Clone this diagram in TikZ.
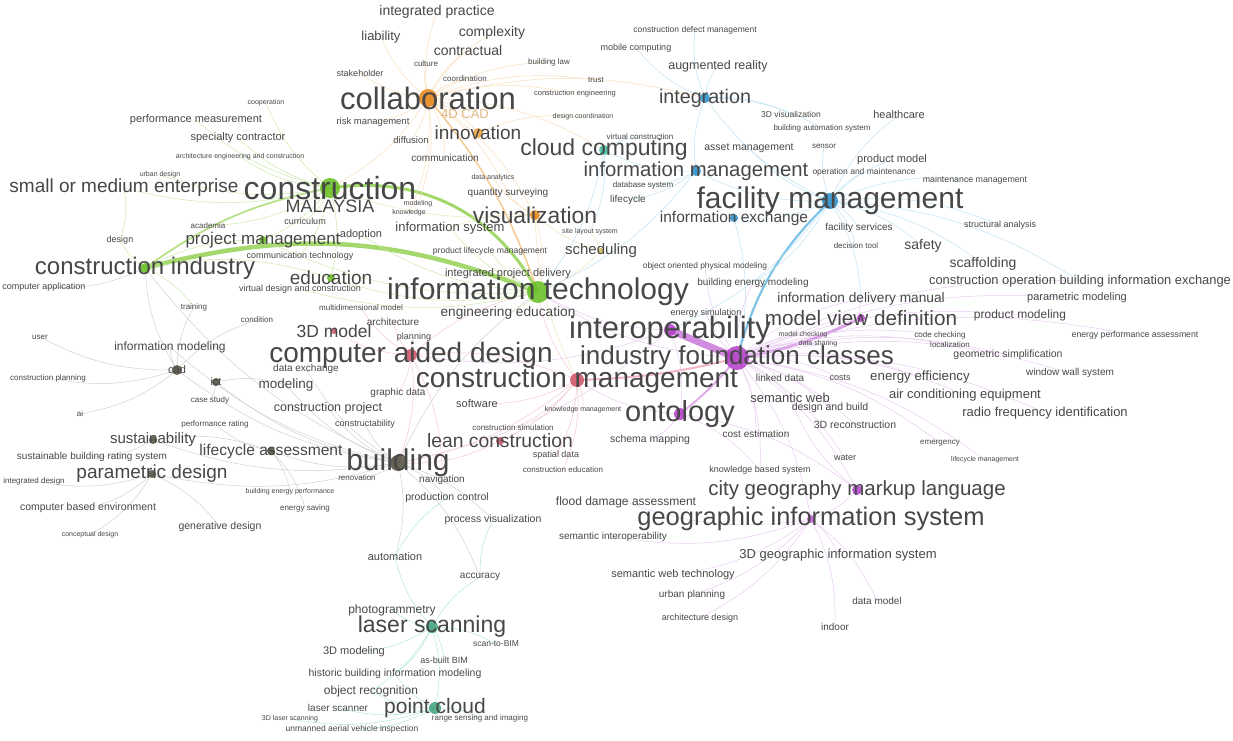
\documentclass[tikz,border=0pt]{standalone}
\usepackage{fontspec}
\setmainfont{Liberation Sans}
\pgfdeclarelayer{background}
\pgfdeclarelayer{dots}
\pgfsetlayers{background,dots,main}
\definecolor{grn}{RGB}{125,200,45}
\definecolor{org}{RGB}{235,160,60}
\definecolor{ylw}{RGB}{205,190,90}
\definecolor{blu}{RGB}{70,170,220}
\definecolor{pur}{RGB}{190,90,210}
\definecolor{rd}{RGB}{225,80,110}
\definecolor{gry}{RGB}{150,150,150}
\definecolor{tea}{RGB}{60,190,160}
\definecolor{dgrn}{RGB}{100,190,30}
\definecolor{dorg}{RGB}{230,130,20}
\definecolor{dblu}{RGB}{40,140,200}
\definecolor{dpur}{RGB}{180,60,200}
\definecolor{drd}{RGB}{205,80,100}
\definecolor{dgry}{RGB}{80,75,60}
\definecolor{dtea}{RGB}{60,160,120}
\tikzstyle{kw}=[inner sep=0pt, text=black!72]
\tikzstyle{edge}=[draw, line width=0.5pt, -]
\tikzstyle{heavy edge}=[draw, -, opacity=0.7]

\begin{document}
\begin{tikzpicture}[x=1pt,y=-1pt]
  \useasboundingbox (0,0) rectangle (1233,740);
  % keywords
  \foreach \pos/\name/\sz/\txt in {
      {(428,98)/collab/31/collaboration}, {(330,188)/constr/32/construction},
      {(538,292)/infotech/30/information technology}, {(830,201)/fm/30/facility management},
      {(670,330)/interop/31/interoperability}, {(737,358)/ifc/26/industry foundation classes},
      {(411,355)/cad/28/computer aided design}, {(577,380)/cm/28/construction management},
      {(680,414)/onto/29/ontology}, {(398,463)/bldg/30/building},
      {(811,519)/gis/25.5/geographic information system}, {(857,490)/citygml/20.5/city geography markup language},
      {(124,188)/sme/19/small or medium enterprise}, {(145,268)/ci/24/construction industry},
      {(432,627)/laser/23/laser scanning}, {(435,708)/pc/21/point cloud},
      {(861,318)/mvd/20.7/model view definition}, {(696,171)/im/20.3/information management},
      {(604,150)/cloud/23/cloud computing}, {(535,215)/vis/22.8/visualization},
      {(478,133)/innov/19/innovation}, {(705,98)/integ/19.7/integration},
      {(153,440)/sust/15/sustainability}, {(152,474)/param/19/parametric design},
      {(500,441)/lean/19.3/lean construction}, {(334,331)/tdm/17.5/3D model},
      {(330,206)/malay/18/MALAYSIA}, {(263,240)/pm/17/project management},
      {(331,278)/edu/19/education}, {(271,451)/lca/15.6/lifecycle assessment},
      {(508,313)/engedu/13.7/engineering education}, {(601,251)/sched/15/scheduling},
      {(734,218)/ie/15.5/information exchange}, {(861,299)/idm/13.7/information delivery manual},
      {(983,264)/scaff/14/scaffolding}, {(1080,281)/cobie/12.9/construction operation building information exchange},
      {(437,12)/intprac/14/integrated practice}, {(381,37)/liab/13/liability},
      {(492,33)/complex/14/complexity}, {(468,50)/contract/14/contractual},
      {(718,66)/ar/12.5/augmented reality},
      {(300,256)/ictwo/9/communication technology}, {(300,289)/vdc/9/virtual design and construction},
      {(450,228)/infosys/13/information system}, {(361,235)/adopt/11/adoption},
      {(305,221)/curric/9/curriculum}, {(208,226)/acad/8/academia},
      {(120,240)/design/9/design}, {(266,103)/coop/7/cooperation},
      {(196,120)/perf/11/performance measurement}, {(238,138)/spec/11/specialty contractor},
      {(240,157)/aec/7/architecture engineering and construction}, {(160,175)/urban/7/urban design},
      {(194,307)/train/8/training}, {(257,320)/cond/8/condition},
      {(426,64)/cult/8/culture}, {(360,73)/stake/9/stakeholder},
      {(465,79)/coord/8/coordination}, {(373,122)/risk/9.5/risk management},
      {(411,140)/diff/9.5/diffusion},
      {(445,158)/comm/10/communication}, {(549,62)/blaw/8/building law},
      {(596,80)/trust/8/trust}, {(575,94)/ceng/7.5/construction engineering},
      {(583,117)/dcoord/7/design coordination}, {(493,178)/data/7/data analytics},
      {(508,193)/qs/10/quantity surveying}, {(418,204)/modl/7/modeling},
      {(409,213)/know/7/knowledge},
      {(695,30)/cdm/8.5/construction defect management}, {(636,48)/mobile/9/mobile computing},
      {(791,114)/visthd/8.5/3D visualization}, {(899,115)/health/11/healthcare},
      {(822,128)/bas/8/building automation system}, {(749,148)/asset/10.5/asset management},
      {(824,146)/sensor/8/sensor}, {(892,160)/prodm/11/product model},
      {(864,172)/om/8.5/operation and maintenance}, {(975,180)/maint/8.8/maintenance management},
      {(859,228)/facserv/10/facility services}, {(923,246)/safety/14/safety},
      {(856,246)/dtool/8/decision tool}, {(1000,225)/struct/9/structural analysis},
      {(640,137)/vc/8/virtual construction}, {(643,185)/dbs/8/database system},
      {(628,200)/lifec/10/lifecycle}, {(590,232)/sls/7/site layout system},
      {(838,555)/gisthd/13/3D geographic information system}, {(673,575)/swt/11/semantic web technology},
      {(692,595)/urbp/10/urban planning}, {(700,618)/archd/9/architecture design},
      {(877,601)/datam/10/data model}, {(835,627)/indoor/10/indoor},
      {(626,502)/flood/12/flood damage assessment}, {(613,537)/semint/10/semantic interoperability},
      {(650,440)/schema/10.5/schema mapping}, {(760,470)/kbs/9/knowledge based system},
      {(790,398)/semweb/13/semantic web}, {(830,408)/dab/10.5/design and build},
      {(855,425)/recon/10.5/3D reconstruction}, {(756,434)/costest/10/cost estimation},
      {(845,458)/water/9/water}, {(780,378)/linked/10/linked data},
      {(840,378)/costs/9/costs}, {(920,377)/energy/13.3/energy efficiency},
      {(965,395)/acequip/13/air conditioning equipment}, {(1045,413)/rfid/13/radio frequency identification},
      {(1008,355)/geosimp/10.5/geometric simplification}, {(1077,298)/parmod/11/parametric modeling},
      {(1020,315)/prodmod/12/product modeling}, {(1135,335)/epa/8.7/energy performance assessment},
      {(1070,373)/wws/10/window wall system}, {(940,335)/codech/8/code checking},
      {(950,345)/local/8/localization}, {(940,443)/emerg/8/emergency},
      {(985,460)/lcm/7/lifecycle management}, {(705,266)/oopm/8.4/object oriented physical modeling},
      {(753,283)/bem/10/building energy modeling}, {(706,313)/esim/9/energy simulation},
      {(803,335)/mcheck/7/model checking}, {(818,344)/dshare/7/data sharing},
      {(393,322)/arch/10/architecture}, {(414,337)/plan/9/planning},
      {(361,308)/mdm/8/multidimensional model}, {(398,393)/graph/10/graphic data},
      {(477,404)/soft/11/software}, {(583,410)/km/7/knowledge management},
      {(513,428)/csim/8/construction simulation}, {(556,455)/spat/9/spatial data},
      {(563,470)/cedu/8/construction education}, {(442,480)/nav/10/navigation},
      {(508,274)/ipd/11/integrated project delivery}, {(490,251)/plm/8.6/product lifecycle management},
      {(328,408)/cproj/12.5/construction project}, {(286,385)/modeling/13.5/modeling},
      {(306,369)/dex/10/data exchange}, {(177,370)/cadn/11/cad},
      {(216,382)/ict/11/ict}, {(170,347)/infomod/12/information modeling},
      {(48,378)/cplan/8/construction planning}, {(40,337)/user/8/user},
      {(44,287)/capp/9/computer application}, {(80,414)/ai/8/ai},
      {(210,400)/casest/8/case study}, {(215,424)/perfr/8/performance rating},
      {(92,457)/sbrs/10/sustainable building rating system}, {(34,481)/intdes/8/integrated design},
      {(88,508)/cbe/10.5/computer based environment}, {(90,535)/concept/7/conceptual design},
      {(220,527)/gen/10.5/generative design}, {(290,492)/bep/7/building energy performance},
      {(305,508)/esav/8/energy saving}, {(365,424)/cnst/9/constructability},
      {(357,478)/renov/8/renovation}, {(447,498)/prodctrl/10.5/production control},
      {(493,520)/procvis/10.5/process visualization}, {(395,557)/automation/11/automation},
      {(480,577)/accuracy/10/accuracy},
      {(392,610)/photo/12/photogrammetry}, {(496,644)/stob/8.5/scan-to-BIM},
      {(354,652)/tdmod/11/3D modeling}, {(444,660)/asb/9/as-built BIM},
      {(395,674)/hbim/10.5/historic building information modeling}, {(371,691)/objrec/12/object recognition},
      {(338,708)/lscan/10/laser scanner}, {(290,719)/tdls/7/3D laser scanning},
      {(480,718)/rsi/8/range sensing and imaging}, {(352,729)/uav/8.5/unmanned aerial vehicle inspection}} {
    \node[kw, font=\fontsize{\sz}{\sz}\selectfont] (\name) at \pos {\txt};
  }
  \node[kw, text=org!85!black!60, font=\fontsize{13}{13}\selectfont] (fourd) at (465,114) {4D CAD};

  % node dots
  \begin{pgfonlayer}{dots}
    \foreach \name/\clr/\r in {collab/dorg/9, constr/dgrn/10, infotech/dgrn/11, fm/dblu/8,
        ifc/dpur/12, interop/dpur/6, cm/drd/7, cad/drd/6, integ/dblu/5, im/dblu/5, cloud/tea/5,
        vis/dorg/5, innov/org/5, bldg/dgry/8, laser/dtea/6, pc/dtea/6, sust/dgry/4, param/dgry/4,
        lca/dgry/4, onto/dpur/6, citygml/dpur/5, gis/pur/4, ci/dgrn/5, pm/dgrn/4, edu/dgrn/4,
        mvd/dpur/4, lean/drd/4, tdm/drd/3, cadn/dgry/5, ict/dgry/4, ie/dblu/4, sched/ylw/3}
      \fill[fill=\clr, opacity=0.85] (\name.center) circle (\r);
  \end{pgfonlayer}

  \begin{pgfonlayer}{background}
    % heavy links
    \path[heavy edge, grn, line width=4.5pt] (ci.center) to[bend left=18] (infotech.center);
    \path[heavy edge, grn, line width=3pt] (constr.center) to[bend left=35] (infotech.center);
    \path[heavy edge, grn!80, line width=1.8pt] (ci.center) to[bend left=12] (constr.center);
    \path[heavy edge, pur, line width=7pt] (interop.center) -- (ifc.center);
    \path[heavy edge, pur!80, line width=3pt] (ifc.center) to[bend right=8] (mvd.center);
    \path[heavy edge, pur!70, line width=2pt] (ifc.center) to[bend left=6] (onto.center);
    \path[heavy edge, rd!60, line width=2pt] (ifc.center) to[bend left=6] (cm.center);
    \path[heavy edge, blu, line width=2.2pt] (fm.center) to[bend right=15] (ifc.center);
    \path[heavy edge, org!80, line width=1.5pt] (collab.center) to[bend left=10] (infotech.center);
    % green links
    \foreach \source/\sink in {constr/sme, constr/pm, ci/pm, ci/edu, constr/edu, infotech/edu,
        infotech/pm, ci/design, constr/perf, constr/spec, constr/aec, constr/coop, constr/urban,
        constr/acad, infotech/infosys, infotech/adopt, constr/ictwo, infotech/vdc, sme/design,
        infotech/engedu, constr/curric, ci/train, infotech/ipd, infotech/plm, constr/malay}
      \path[edge, draw=grn!40] (\source.center) to[bend left=14] (\sink.center);
    % orange links
    \foreach \source/\sink in {collab/intprac, collab/liab, collab/complex, collab/contract,
        collab/innov, collab/stake, collab/cult, collab/coord, collab/risk, collab/fourd,
        collab/diff, collab/comm, collab/constr, collab/vis, collab/cloud, collab/qs,
        collab/blaw, collab/trust, collab/ceng, innov/dcoord, vis/infotech, vis/data,
        vis/qs, collab/integ, collab/modl, collab/know}
      \path[edge, draw=org!35] (\source.center) to[bend left=14] (\sink.center);
    % yellow links
    \foreach \source/\sink in {constr/vis, vis/sched, infotech/sched, vis/infosys, sched/sls, vis/cm}
      \path[edge, draw=ylw!40] (\source.center) to[bend right=12] (\sink.center);
    % blue links
    \foreach \source/\sink in {fm/im, fm/ie, fm/integ, fm/cobie, fm/scaff, fm/safety, fm/health,
        fm/interop, fm/maint, fm/om, fm/prodm, fm/facserv, fm/dtool, fm/struct, fm/asset,
        fm/sensor, im/cloud, im/integ, im/infotech, integ/ar, integ/cdm, integ/mobile,
        integ/visthd, integ/bas, cloud/infotech, cloud/vc, im/dbs, im/lifec, ie/ifc,
        cloud/sls, fm/bem, fm/idm}
      \path[edge, draw=blu!35] (\source.center) to[bend left=14] (\sink.center);
    % purple links
    \foreach \source/\sink in {ifc/idm, ifc/citygml, ifc/gis, ifc/infotech, ifc/semweb,
        ifc/energy, ifc/cobie, ifc/rfid, ifc/acequip, ifc/geosimp, ifc/parmod, ifc/prodmod,
        ifc/epa, ifc/wws, ifc/oopm, ifc/bem, ifc/esim, ifc/mcheck, ifc/dshare, ifc/dab,
        ifc/recon, ifc/linked, ifc/costs, ifc/codech, ifc/local, ifc/kbs, ifc/water,
        ifc/emerg, ifc/lcm, interop/onto, interop/infotech, onto/citygml, onto/schema,
        onto/kbs, onto/cm, citygml/gis, gis/swt, gis/urbp, gis/archd, gis/gisthd,
        gis/datam, gis/indoor, gis/flood, gis/semint, citygml/semweb, interop/bldg,
        mvd/idm, ifc/costest, interop/cad}
      \path[edge, draw=pur!32] (\source.center) to[bend left=14] (\sink.center);
    % red links
    \foreach \source/\sink in {cad/cm, cad/bldg, cm/lean, cm/infotech, cad/tdm, cad/arch,
        cad/plan, cad/mdm, cad/graph, cm/soft, cm/km, cm/csim, cm/spat, cm/cedu,
        cad/infotech, lean/bldg, cad/nav, cm/bldg}
      \path[edge, draw=rd!32] (\source.center) to[bend left=14] (\sink.center);
    % grey links
    \foreach \source/\sink in {bldg/sust, bldg/param, bldg/lca, bldg/cadn, bldg/ict,
        bldg/infomod, cadn/user, cadn/cplan, cadn/ci, cadn/infomod, cadn/ai, bldg/cproj,
        bldg/modeling, bldg/dex, sust/sbrs, param/intdes, param/cbe, param/gen,
        param/concept, lca/perfr, lca/esav, lca/bep, bldg/cnst, bldg/renov, bldg/prodctrl,
        bldg/procvis, bldg/automation, bldg/accuracy, cadn/train, ict/casest, bldg/infotech,
        sust/lca, bldg/ci, cadn/cond, ci/capp, ict/modeling}
      \path[edge, draw=gry!45] (\source.center) to[bend left=14] (\sink.center);
    % teal links
    \foreach \source/\sink in {laser/photo, laser/tdmod, laser/pc, laser/hbim, laser/objrec,
        laser/automation, laser/accuracy, laser/stob, laser/asb, pc/lscan, pc/tdls, pc/rsi,
        pc/uav, pc/objrec, pc/hbim, automation/prodctrl, accuracy/procvis}
      \path[edge, draw=tea!40] (\source.center) to[bend left=14] (\sink.center);
  \end{pgfonlayer}
\end{tikzpicture}
\end{document}
